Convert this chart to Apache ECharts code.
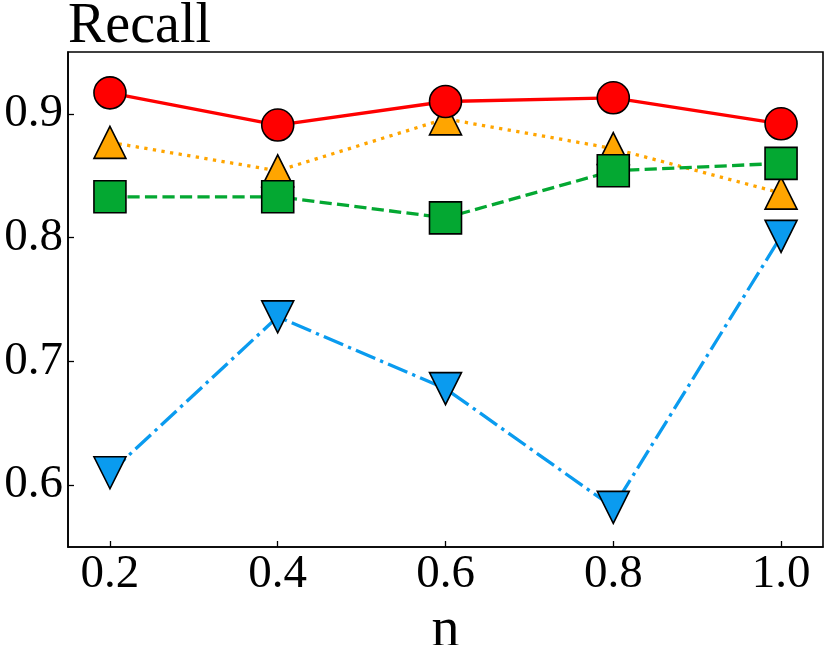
<!DOCTYPE html>
<html>
<head>
<meta charset="utf-8">
<script src="https://cdn.jsdelivr.net/npm/echarts@6/dist/echarts.min.js"></script>
<style>
  html, body { margin: 0; padding: 0; background: #fff; }
  #Recall { width: 830px; height: 645px; }
</style>
</head>
<body>
<div id="Recall"></div>
<script>
var nValues = [0.2, 0.4, 0.6, 0.8, 1.0];
var yTicks = [0.6, 0.7, 0.8, 0.9];

var redCircle = [0.917, 0.891, 0.910, 0.913, 0.892];
var orangeUp = [0.877, 0.854, 0.896, 0.872, 0.836];
var greenSquare = [0.833, 0.833, 0.816, 0.854, 0.860];
var blueDown = [0.610, 0.736, 0.678, 0.582, 0.801];

var font = "'Liberation Serif', 'Times New Roman', serif";

function pairs(vals) {
    return nValues.map(function (n, i) { return [n, vals[i]]; });
}

function makeSeries(vals, color, symbol, dash, rotate, z) {
    return {
        type: 'line',
        data: pairs(vals),
        symbol: symbol,
        symbolSize: 32,
        symbolRotate: rotate,
        z: z,
        lineStyle: { color: color, width: 3.3, type: dash, cap: 'butt' },
        itemStyle: { color: color, borderColor: '#000', borderWidth: 1.6 },
        emphasis: { disabled: true },
        animation: false
    };
}

var chart = echarts.init(document.getElementById('Recall'));
var option = {
    backgroundColor: '#fff',
    title: {
        text: 'Recall',
        left: 63,
        top: -6,
        textStyle: { fontFamily: font, fontSize: 56, fontWeight: 'normal', color: '#000' }
    },
    grid: {
        left: 68, right: 7, top: 52, bottom: 98,
        containLabel: false,
        outerBoundsMode: 'none',
        show: true, borderColor: '#000', borderWidth: 1.6
    },
    xAxis: {
        type: 'value',
        min: 0.15,
        max: 1.05,
        name: 'n',
        nameLocation: 'middle',
        nameGap: 54,
        nameTextStyle: { fontFamily: font, fontSize: 56, color: '#000' },
        axisLine: { show: true, lineStyle: { color: '#000', width: 1.6 } },
        axisTick: { show: true, inside: true, length: 6, customValues: nValues, lineStyle: { color: '#000', width: 1.3 } },
        axisLabel: {
            customValues: nValues, margin: 4,
            fontFamily: font, fontSize: 47, color: '#000',
            formatter: function (v) { return v.toFixed(1); }
        },
        splitLine: { show: false }
    },
    yAxis: {
        type: 'value',
        min: 0.55,
        max: 0.95,
        axisLine: { show: true, lineStyle: { color: '#000', width: 1.6 } },
        axisTick: { show: true, inside: true, length: 6, customValues: yTicks, lineStyle: { color: '#000', width: 1.3 } },
        axisLabel: {
            customValues: yTicks, margin: 5,
            fontFamily: font, fontSize: 47, color: '#000',
            formatter: function (v) { return v.toFixed(1); }
        },
        splitLine: { show: false }
    },
    series: [
        makeSeries(orangeUp, '#ffa500', 'triangle', [3.3, 5.4], 0, 2),
        makeSeries(greenSquare, '#04a832', 'rect', [12.2, 5.3], 0, 3),
        makeSeries(blueDown, '#0a9bef', 'triangle', [21, 5.3, 3.3, 5.3], 180, 4),
        makeSeries(redCircle, '#ff0000', 'circle', 'solid', 0, 5)
    ]
};

chart.setOption(option);
</script>
</body>
</html>
